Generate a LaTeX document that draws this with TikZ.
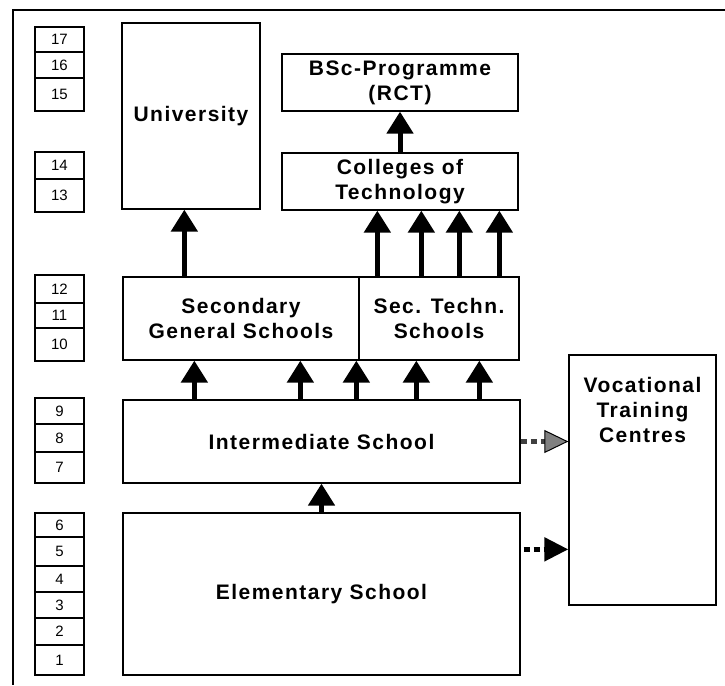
\documentclass[tikz,border=0pt]{standalone}
\usepackage{fontspec}
\setmainfont{Liberation Sans}
\newfontfamily\boxfont[LetterSpace=7]{Liberation Sans}
\usepackage{tikz}
\usetikzlibrary{arrows.meta, calc}

\begin{document}
\begin{tikzpicture}[x=1pt, y=-1pt,
		box/.style={draw=black, line width=1.3pt, inner sep=0pt, align=center,
			font={\boxfont\bfseries\fontsize{21}{25}\selectfont}},
		year/.style={draw=black, line width=1.2pt, inner sep=0pt, minimum width=49pt,
			font={\fontsize{15}{17}\selectfont}},
		up/.style={line width=5pt, -{Triangle[width=26pt, length=22pt]}},
		side/.style={line width=5pt, dash pattern=on 6pt off 4pt, -{Triangle[width=23pt, length=24pt]}},
		sidegrey/.style={side, draw=black!75, -{Triangle[width=23pt, length=24pt, fill=black!50, color=black, line width=1pt]}}]
	\useasboundingbox (0,0) rectangle (725,685);
	% outer frame
	\draw[line width=2pt] (725,10) -| (13,685);

	% school years
	\foreach \n/\t/\b in {17/27/52, 16/52/78, 15/78/111, 14/152/179, 13/179/212,
			12/275/303, 11/303/328, 10/328/361, 9/398/424, 8/424/452, 7/452/483,
			6/513/537, 5/537/566, 4/566/592, 3/592/618, 2/618/645, 1/645/675}
		\node[year, minimum height={(\b-\t)*1pt}] (yr\n) at (59.5,{(\t+\b)/2}) {\n};

	% institutions
	\node[box, minimum width=138pt, minimum height=186pt] (univ)     at (191,116)   {University};
	\node[box, minimum width=236pt, minimum height=57pt]  (bsc)      at (400,82.5)  {BSc-Programme\\(RCT)};
	\node[box, minimum width=236pt, minimum height=57pt]  (colleges) at (400,181.5) {Colleges of\\Technology};
	\node[box, minimum width=236pt, minimum height=83pt]  (secgen)   at (241,318.5) {Secondary\\General Schools};
	\node[box, minimum width=160pt, minimum height=83pt]  (sectech)  at (439,318.5) {Sec. Techn.\\Schools};
	\node[box, minimum width=397pt, minimum height=83pt]  (inter)    at (321.5,441.5) {Intermediate School};
	\node[box, minimum width=397pt, minimum height=162pt] (elem)     at (321.5,594) {Elementary School};
	\node[box, minimum width=147pt, minimum height=250pt,
		label={[box, draw=none, below=22pt]north:{Vocational\\Training\\Centres}}] (voc) at (642.5,480) {};

	% transitions
	\draw[up] (elem.north) -- (inter.south);
	\foreach \dx in {72,178,234}
		\draw[up] ($(inter.north west)+(\dx,0)$) -- ($(secgen.south west)+(\dx,0)$);
	\foreach \dx in {58,121}
		\draw[up] ($(sectech.south west)+(\dx,40)$) -- ($(sectech.south west)+(\dx,0)$);
	\draw[up] ($(secgen.north west)+(62,0)$) -- ($(univ.south west)+(63,0)$);
	\foreach \a/\b in {19/96, 63/140, 101/178, 141/218}
		\draw[up] ($(sectech.north west)+(\a,0)$) -- ($(colleges.south west)+(\b,0)$);
	\draw[up] (colleges.north) -- (bsc.south);

	\coordinate (e1) at ($(elem.north east)+(3,37)$);
	\draw[sidegrey] (inter.east) -- (inter.east -| voc.west);
	\draw[side] (e1) -- (e1 -| voc.west);
\end{tikzpicture}
\end{document}
